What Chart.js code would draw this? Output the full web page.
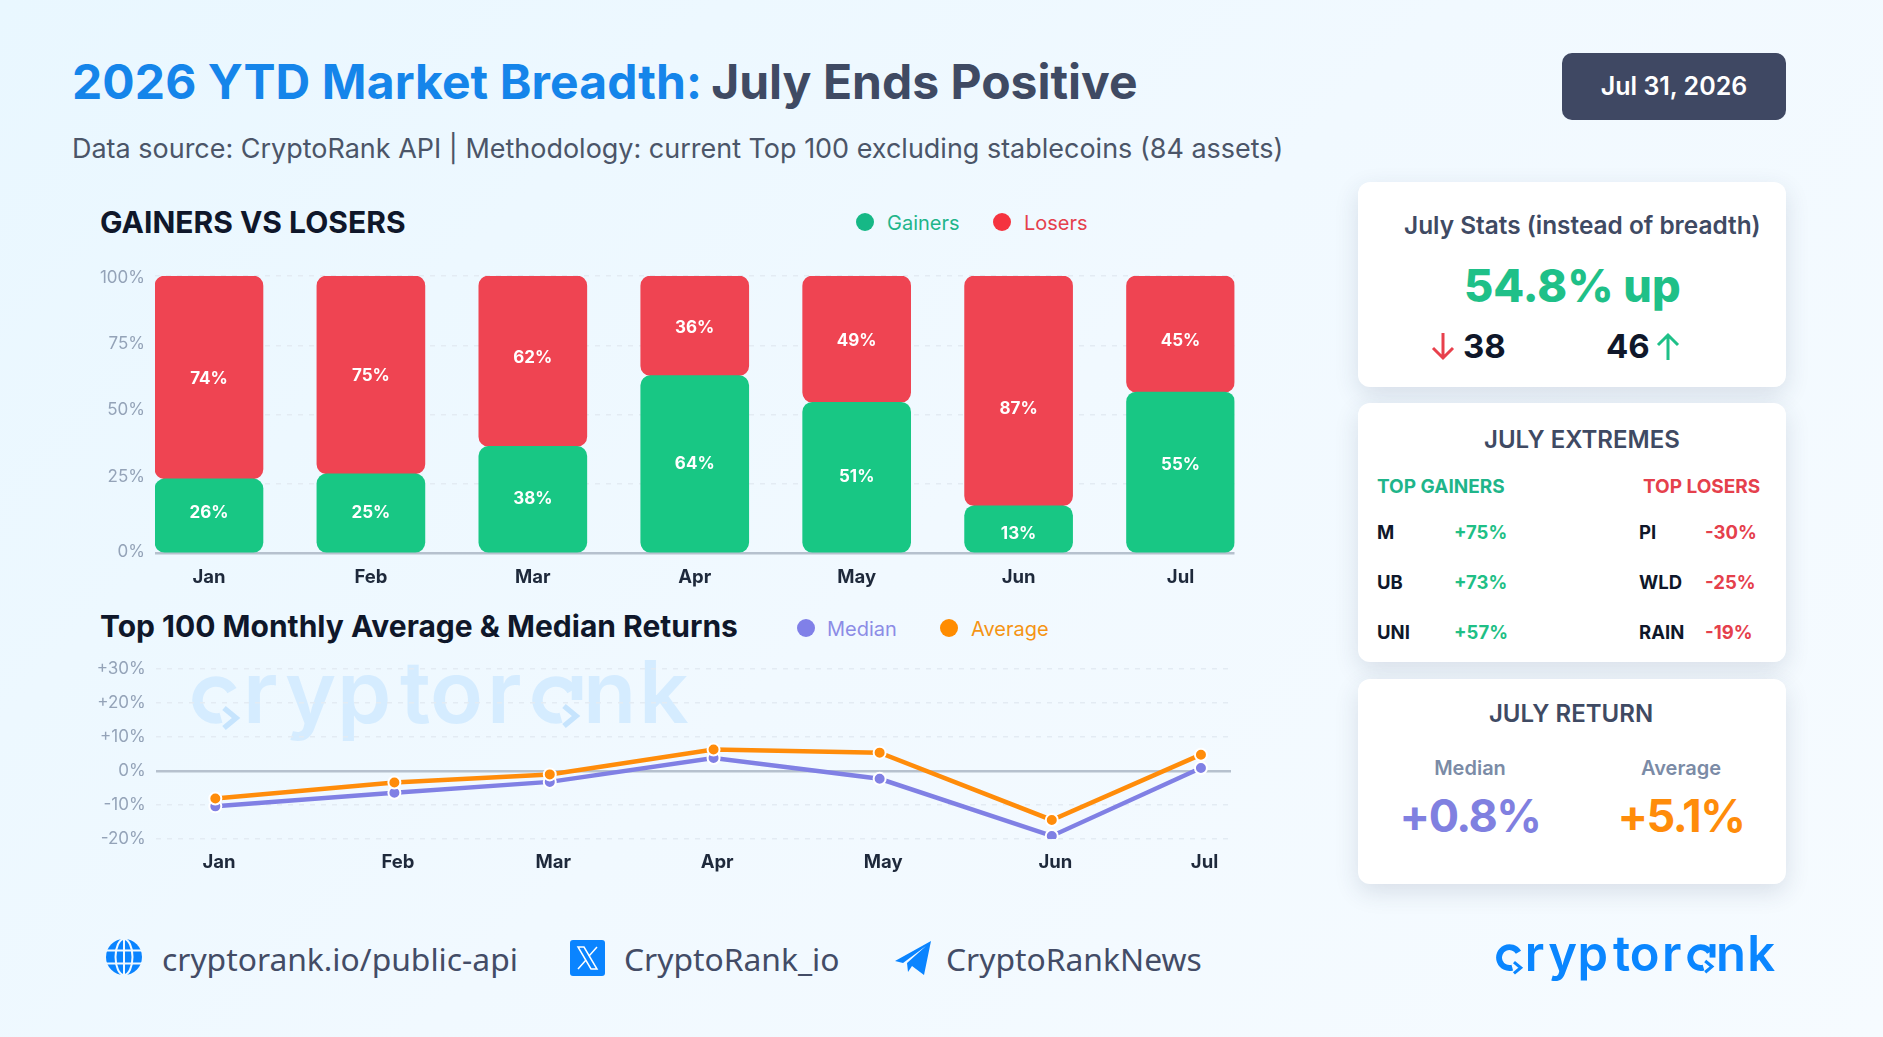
<!DOCTYPE html>
<html><head><meta charset="utf-8">
<script src="https://cdn.jsdelivr.net/npm/chart.js@4"></script>
<style>
html,body{margin:0;padding:0;width:1883px;height:1037px;overflow:hidden}
body{position:relative;background:linear-gradient(135deg,#e9f7ff 0%,#f1f9ff 50%,#f6fbff 100%);font-family:Inter,sans-serif}
.t{position:absolute;white-space:nowrap;line-height:1;transform:translateY(-50%)}
.c{transform:translate(-50%,-50%)}
.card{position:absolute;left:1358px;width:428px;background:#fff;border-radius:12px;box-shadow:0 8px 24px rgba(40,60,90,.14)}
.dot{position:absolute;border-radius:50%;width:18px;height:18px;transform:translate(-50%,-50%)}
canvas{position:absolute}
svg{position:absolute}
.row{font-size:18.5px;font-weight:700;color:#0f172a}
.gv{font-size:18.5px;font-weight:700;color:#1fbf86}
.lv{font-size:18.5px;font-weight:700;color:#e5404c}
.foot{font-family:"Noto Sans",sans-serif;font-size:31.8px;color:#434c66}
</style></head><body>
<svg style="left:0;top:0" width="1883" height="1037">
 <g color="#d5ecff">
  <text y="723" x="192 243 285 337 400 430 487 530 583 639" font-family="Inter" font-weight="600" font-size="87" fill="currentColor"><tspan fill="none">c</tspan>rypto<tspan>r</tspan><tspan fill="none">a</tspan>nk</text>
  <path d="M232 690.7 A18.5 18.5 0 1 0 221 717.8 M572 690.7 A18.5 18.5 0 1 0 561 717.8" fill="none" stroke="currentColor" stroke-width="10.5"/>
  <path d="M577 676 V700" fill="none" stroke="currentColor" stroke-width="10.5"/>
  <path d="M224 708 L236 718 L224 728 M564 706 L576 716 L564 726" fill="none" stroke="#c6e4fd" stroke-width="5.5"/>
 </g>
</svg>

<div class="t" style="left:72px;top:82px;font-size:48px;font-weight:700;"><span style="color:#1585ea;letter-spacing:.1px">2026 YTD Market Breadth:</span> <span style="color:#3f4a63;margin-left:-2.4px">July Ends Positive</span></div>
<div class="t" style="left:72px;top:148px;font-size:26.98px;color:#4b5568">Data source: CryptoRank API | Methodology: current Top 100 excluding stablecoins (84 assets)</div>
<div style="position:absolute;left:1562px;top:53px;width:224px;height:67px;background:#3f4863;border-radius:10px"></div>
<div class="t c" style="left:1674px;top:86px;font-size:25px;font-weight:600;color:#fff">Jul 31, 2026</div>

<div class="t" style="left:100px;top:222px;font-size:30px;font-weight:700;color:#0f172a">GAINERS VS LOSERS</div>
<div class="dot" style="left:865px;top:222px;background:#16b886"></div>
<div class="t" style="left:887px;top:223px;font-size:20px;color:#1fb58a">Gainers</div>
<div class="dot" style="left:1002px;top:222px;background:#f5333f"></div>
<div class="t" style="left:1024px;top:223px;font-size:20px;color:#e5404c">Losers</div>

<div class="t" style="left:100px;top:626px;font-size:30px;font-weight:700;color:#0f172a">Top 100 Monthly Average &amp; Median Returns</div>
<div class="dot" style="left:806px;top:628px;background:#8080e8"></div>
<div class="t" style="left:827px;top:629px;font-size:20px;color:#8c8ce6">Median</div>
<div class="dot" style="left:949px;top:628px;background:#ff8c00"></div>
<div class="t" style="left:971px;top:629px;font-size:20px;color:#f59414">Average</div>

<canvas id="bars" width="1170" height="340" style="left:80px;top:260px"></canvas>
<canvas id="lines" width="1170" height="230" style="left:80px;top:652px"></canvas>

<div class="card" style="top:182px;height:205px"></div>
<div class="t" style="left:1404px;top:225px;font-size:24.4px;font-weight:600;color:#3f4a63">July Stats (instead of breadth)</div>
<div class="t" style="left:1464px;top:285px;font-size:45px;font-weight:800;color:#1fc088">54.8% up</div>
<svg style="left:1430px;top:331px" width="26" height="30"><path d="M13 2 V27 M3 17 L13 27 L23 17" fill="none" stroke="#e8404c" stroke-width="3"/></svg>
<div class="t" style="left:1463px;top:346px;font-size:33px;font-weight:700;color:#0f172a">38</div>
<div class="t" style="left:1606px;top:346px;font-size:33px;font-weight:700;color:#0f172a">46</div>
<svg style="left:1655px;top:332px" width="26" height="30"><path d="M13 28 V3 M3 13 L13 3 L23 13" fill="none" stroke="#1fc088" stroke-width="3"/></svg>

<div class="card" style="top:403px;height:259px"></div>
<div class="t" style="left:1484px;top:440px;font-size:24px;font-weight:600;color:#3f4a63">JULY EXTREMES</div>
<div class="t" style="left:1377px;top:486px;font-size:19px;font-weight:700;color:#1fb58a">TOP GAINERS</div>
<div class="t" style="left:1643px;top:486px;font-size:19px;font-weight:700;color:#e5404c">TOP LOSERS</div>
<div class="t row" style="left:1377px;top:532px">M</div><div class="t gv" style="left:1454px;top:532px">+75%</div>
<div class="t row" style="left:1377px;top:582px">UB</div><div class="t gv" style="left:1454px;top:582px">+73%</div>
<div class="t row" style="left:1377px;top:632px">UNI</div><div class="t gv" style="left:1454px;top:632px">+57%</div>
<div class="t row" style="left:1639px;top:532px">PI</div><div class="t lv" style="left:1705px;top:532px">-30%</div>
<div class="t row" style="left:1639px;top:582px">WLD</div><div class="t lv" style="left:1705px;top:582px">-25%</div>
<div class="t row" style="left:1639px;top:632px">RAIN</div><div class="t lv" style="left:1705px;top:632px">-19%</div>

<div class="card" style="top:679px;height:205px"></div>
<div class="t c" style="left:1571px;top:714px;font-size:24px;font-weight:600;color:#3f4a63">JULY RETURN</div>
<div class="t c" style="left:1470px;top:768px;font-size:20px;font-weight:600;color:#7b8ba6">Median</div>
<div class="t c" style="left:1681px;top:768px;font-size:20px;font-weight:600;color:#7b8ba6">Average</div>
<div class="t c" style="left:1470px;top:815px;font-size:45px;font-weight:700;letter-spacing:-1.5px;color:#8080e0">+0.8%</div>
<div class="t c" style="left:1681px;top:815px;font-size:45px;font-weight:700;letter-spacing:-1.5px;color:#ff8c0a">+5.1%</div>

<svg style="left:106px;top:939px" width="36" height="36" viewBox="0 0 36 36">
 <circle cx="18" cy="18" r="18" fill="#0a84ff"/>
 <g fill="none" stroke="#f1f9ff" stroke-width="2"><ellipse cx="18" cy="18" rx="8.5" ry="18"/><path d="M18 0V36M0 11.5H36M0 24.5H36"/></g>
</svg>
<div class="t foot" style="left:162px;top:959px">cryptorank.io/public-api</div>
<svg style="left:570px;top:940px" width="35" height="36" viewBox="0 0 35 36">
 <rect width="35" height="36" rx="3" fill="#0a84ff"/>
 <path d="M8 7h6l13 22h-6z" fill="none" stroke="#fff" stroke-width="1.5"/><path d="M27 7L19 16M16 20L8 29" stroke="#fff" stroke-width="1.5"/>
</svg>
<div class="t foot" style="left:624px;top:959px">CryptoRank_io</div>
<svg style="left:895px;top:941px" width="36" height="34" viewBox="0 0 36 34">
 <path d="M0 20 L36 0 L29 34 L17 25 L13 31 L12 22 L31 5 L8 22 Z" fill="#0a84ff"/>
</svg>
<div class="t foot" style="left:946px;top:959px">CryptoRankNews</div>

<svg style="left:0;top:0" width="1883" height="1037">
 <g color="#0a86ff" transform="translate(1388,563.9) scale(.5624)">
  <text y="723" x="192 243 285 337 400 430 487 530 583 639" font-family="Inter" font-weight="600" font-size="87" fill="currentColor"><tspan fill="none">c</tspan>rypto<tspan>r</tspan><tspan fill="none">a</tspan>nk</text>
  <path d="M232 690.7 A18.5 18.5 0 1 0 221 717.8 M572 690.7 A18.5 18.5 0 1 0 561 717.8" fill="none" stroke="currentColor" stroke-width="10.5"/>
  <path d="M577 676 V700" fill="none" stroke="currentColor" stroke-width="10.5"/>
  <path d="M224 708 L236 718 L224 728 M564 706 L576 716 L564 726" fill="none" stroke="currentColor" stroke-width="5.5"/>
 </g>
</svg>

<script>
const months = ['Jan','Feb','Mar','Apr','May','Jun','Jul'];
const monthIndex = [0,1,2,3,4,5,6];
const gainerHeights = [26.9,28.7,38.6,64.1,54.5,17.2,58.2];
const loserHeights = [73.1,71.3,61.4,35.9,45.5,82.8,41.8];
const gainerLabels = ['26%','25%','38%','64%','51%','13%','55%'];
const loserLabels = ['74%','75%','62%','36%','49%','87%','45%'];
const barTicks = [0,25,50,75,100];
const lineX = [0,1.09,2.036,3.033,4.044,5.092,6];
const medianReturns = [-10.4,-6.4,-3.2,3.8,-2.3,-19.1,0.9];
const averageReturns = [-8.1,-3.4,-1.0,6.3,5.4,-14.4,4.8];
const lineTicks = [-20,-10,0,10,20,30];

const GRID='#e3ebf3', AXIS='#b6c1ce', TICK='#94a3b8', XT='#1e293b';
const gridOpts = {
  color: c => c.tick.value===0 ? AXIS : GRID,
  lineWidth: c => c.tick.value===0 ? 2.5 : 1.5,
  drawTicks:false
};
const border = {display:false, dash: c => c.tick && c.tick.value===0 ? [] : [5,6]};
const noPad = s => { s.paddingTop=0; s.paddingBottom=0; s.paddingLeft=0; s.paddingRight=0; };

const barLabels = {
  id:'barLabels',
  beforeDraw(chart){
    // the reference's y labels sit a few pixels off their grid lines
    const nudge=[-1.5,-7,-4.5,-1.6,1.5];
    chart.scales.y.getLabelItems().forEach((it,i)=>{ it.options.translation=[it.options.translation[0],it.options.translation[1]+nudge[i]]; });
  },
  afterDatasetsDraw(chart){
    const ctx=chart.ctx; ctx.save();
    ctx.font='700 17px Inter'; ctx.fillStyle='#fff'; ctx.textAlign='center'; ctx.textBaseline='middle';
    // the reference's bar labels are not quite centred in their segments
    const shift=[[-3,0,0,0,0,5,-7],[1,1,-3,2,2,18,7]];
    [gainerLabels,loserLabels].forEach((labs,d)=>{
      chart.getDatasetMeta(d).data.forEach((el,i)=>{
        const p=el.getCenterPoint(); ctx.fillText(labs[i],p.x,p.y+shift[d][i]);
      });
    });
    ctx.restore();
  }
};
const r={topLeft:10,topRight:10,bottomLeft:10,bottomRight:10};
new Chart(document.getElementById('bars'),{
  type:'bar',
  data:{datasets:[
    {label:'Gainers',data:monthIndex.map((x,i)=>({x,y:gainerHeights[i]})),backgroundColor:'#18c784',borderRadius:r,borderSkipped:false,barThickness:108},
    {label:'Losers',data:monthIndex.map((x,i)=>({x,y:loserHeights[i]})),backgroundColor:'#ef4452',borderRadius:r,borderSkipped:false,barThickness:108}
  ]},
  plugins:[barLabels],
  options:{responsive:false,animation:false,
    layout:{padding:{top:16,right:15.5,bottom:0,left:0}},
    plugins:{legend:{display:false},tooltip:{enabled:false}},
    scales:{
      x:{type:'linear',stacked:true,offset:false,min:-1/3,max:6+1/3,
        afterBuildTicks:s=>{s.ticks=monthIndex.map(value=>({value}));},
        afterFit:s=>{s.height=46.5;noPad(s);},
        grid:{display:false},border:{display:false},
        ticks:{autoSkip:false,maxRotation:0,padding:5,color:XT,font:{family:'Inter',size:18.5,weight:'700'},callback:v=>months[v]}},
      y:{stacked:true,min:0,max:100,
        afterBuildTicks:s=>{s.ticks=barTicks.map(value=>({value}));},
        afterFit:s=>{s.width=75;noPad(s);},
        grid:gridOpts,border,
        ticks:{padding:10,color:TICK,font:{family:'Inter',size:17},callback:v=>v+'%'}}
    }}
});
const fmt=v=>v>0?'+'+v+'%':v+'%';
new Chart(document.getElementById('lines'),{
  type:'line',
  data:{datasets:[
    {label:'Median',order:2,data:lineX.map((x,i)=>({x,y:medianReturns[i]})),borderColor:'#8080e4',backgroundColor:'#8080e4',borderWidth:4.5,pointRadius:6,pointBorderColor:'#fff',pointBorderWidth:2,tension:0},
    {label:'Average',order:1,data:lineX.map((x,i)=>({x,y:averageReturns[i]})),borderColor:'#ff8c0a',backgroundColor:'#ff8c0a',borderWidth:4.5,pointRadius:6,pointBorderColor:'#fff',pointBorderWidth:2,tension:0}
  ]},
  options:{responsive:false,animation:false,
    layout:{padding:{top:17,right:19,bottom:0,left:0}},
    plugins:{legend:{display:false},tooltip:{enabled:false}},
    scales:{
      x:{type:'linear',min:-0.363,max:6.183,
        afterBuildTicks:s=>{s.ticks=lineX.map(value=>({value}));},
        afterFit:s=>{s.height=43;noPad(s);},
        grid:{display:false},border:{display:false},
        ticks:{autoSkip:false,maxRotation:0,padding:4,labelOffset:3.6,color:XT,font:{family:'Inter',size:18.5,weight:'700'},callback:(v,i)=>months[i]}},
      y:{min:-20,max:30,
        afterBuildTicks:s=>{s.ticks=lineTicks.map(value=>({value}));},
        afterFit:s=>{s.width=75.7;noPad(s);},
        grid:gridOpts,border,
        ticks:{padding:10,color:TICK,font:{family:'Inter',size:17},callback:fmt}}
    }}
});
</script>
</body></html>
